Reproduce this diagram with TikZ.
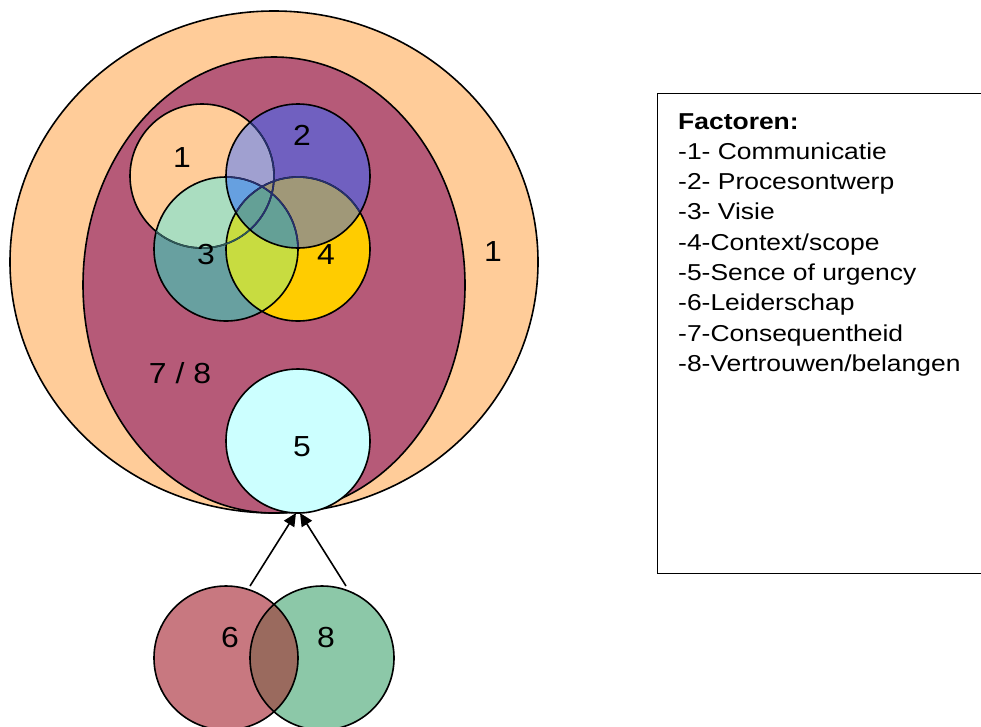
\documentclass[tikz,border=0pt]{standalone}
\usepackage{fontspec}
\setmainfont{Liberation Sans}
\newfontfamily\lblfont[FakeStretch=1.1]{Liberation Sans}
\newfontfamily\keyfont[FakeStretch=1.15]{Liberation Sans}
\usetikzlibrary{arrows.meta}

% fills
\definecolor{cPeach}{HTML}{FFCC99}
\definecolor{cPlum}{HTML}{B65A78}
\definecolor{cBlue}{HTML}{7060C0}
\definecolor{cLav}{HTML}{A0A0D0}
\definecolor{cMint}{HTML}{AADDC0}
\definecolor{cTeal}{HTML}{68A0A0}
\definecolor{cSky}{HTML}{66A0E0}
\definecolor{cLime}{HTML}{C8DC40}
\definecolor{cGold}{HTML}{FFCC00}
\definecolor{cOlive}{HTML}{A09878}
\definecolor{cSea}{HTML}{64A096}
\definecolor{cCyan}{HTML}{CCFFFF}
\definecolor{cRose}{HTML}{C87880}
\definecolor{cSage}{HTML}{8CC8A8}
\definecolor{cMix}{HTML}{9A6A5E}
% outlines seen through the translucent discs
\definecolor{cNavy}{HTML}{26306E}
\definecolor{cDeep}{HTML}{2F5858}

\tikzset{
  rim/.style={draw=black, line width=1.6pt},
  lbl/.style={inner sep=0pt, font=\lblfont\fontsize{29}{34}\selectfont},
  keytxt/.style={inner sep=0pt, anchor=base west, font=\keyfont\fontsize{23}{28}\selectfont},
  keybox/.style={draw=black, line width=1.4pt, anchor=north west, inner sep=0pt,
                 minimum width=340pt, minimum height=480pt},
  push/.style={line width=1.6pt, -{Triangle[length=13pt,width=12pt]}},
  disc/.style={radius=72}
}

\begin{document}
\begin{tikzpicture}[x=1pt, y=-1pt]
\clip (0,0) rectangle (981,726);

% centres
\coordinate (big)   at (274,262);
\coordinate (inner) at (274,285);
\coordinate (c1) at (202,176);
\coordinate (c2) at (298,176);
\coordinate (c3) at (226,249);
\coordinate (c4) at (298,249);
\coordinate (c5) at (298,441);
\coordinate (c6) at (226,658);
\coordinate (c8) at (322,658);

% outer ring (factor 1) and the 7/8 field
\filldraw[rim, fill=cPeach] (big) ellipse [x radius=264, y radius=251];
\filldraw[rim, fill=cPlum] (inner) ellipse [x radius=191, y radius=228];

% cluster 1-4: plain regions
\fill[cPeach] (c1) circle[disc];
\fill[cTeal]  (c3) circle[disc];
\fill[cGold]  (c4) circle[disc];
\begin{scope}
  \clip (c1) circle[disc];
  \fill[cMint] (c3) circle[disc];
\end{scope}
\begin{scope}
  \clip (c3) circle[disc];
  \fill[cLime] (c4) circle[disc];
\end{scope}
\fill[cBlue] (c2) circle[disc];
\begin{scope}
  \clip (c2) circle[disc];
  \fill[cLav]   (c1) circle[disc];
  \fill[cOlive] (c4) circle[disc];
  \clip (c3) circle[disc];
  \fill[cSea] (c3) circle[disc];
  \fill[cSky] (c1) circle[disc];
  \fill[cSea] (c4) circle[disc];
\end{scope}

% cluster outlines
\draw[rim] (c1) circle[disc] (c3) circle[disc] (c4) circle[disc];
\begin{scope}
  \clip (c3) circle[disc];
  \draw[rim, draw=cDeep] (c1) circle[disc];
\end{scope}
\begin{scope}
  \clip (c2) circle[disc];
  \draw[rim, draw=cNavy] (c1) circle[disc] (c3) circle[disc] (c4) circle[disc];
\end{scope}
\draw[rim] (c2) circle[disc];

% factor 5
\filldraw[rim, fill=cCyan] (c5) circle[disc];

% factors 6 and 8
\fill[cRose] (c6) circle[disc];
\fill[cSage] (c8) circle[disc];
\begin{scope}
  \clip (c6) circle[disc];
  \fill[cMix] (c8) circle[disc];
\end{scope}
\draw[rim] (c6) circle[disc] (c8) circle[disc];

% arrows from 6 and 8 up to the base of the rings
\coordinate (t6) at (250,586);
\coordinate (t8) at (346,586);
\coordinate (h6) at (296,513);
\coordinate (h8) at (300,513);
\draw[push] (t6) -- (h6);
\draw[push] (t8) -- (h8);

% labels
\node[lbl] (l1)  at (182,158) {1};
\node[lbl] (l2)  at (302,135) {2};
\node[lbl] (l3)  at (206,255) {3};
\node[lbl] (l4)  at (326,255) {4};
\node[lbl] (l5)  at (302,447) {5};
\node[lbl] (l78) at (180,373) {7 / 8};
\node[lbl] (lo1) at (493,252) {1};
\node[lbl] (l6)  at (230,638) {6};
\node[lbl] (l8)  at (326,638) {8};

% key
\node[keybox] (key) at (657,93) {};
\node[keytxt] (k0) at (678,129) {\bfseries Factoren:};
\foreach \t [count=\i] in {-1- Communicatie, -2- Procesontwerp, -3- Visie,
    -4-Context/scope, -5-Sence of urgency, -6-Leiderschap,
    -7-Consequentheid, -8-Vertrouwen/belangen}
  \node[keytxt] (k\i) at (678,129+30.3*\i) {\t};
\end{tikzpicture}
\end{document}
